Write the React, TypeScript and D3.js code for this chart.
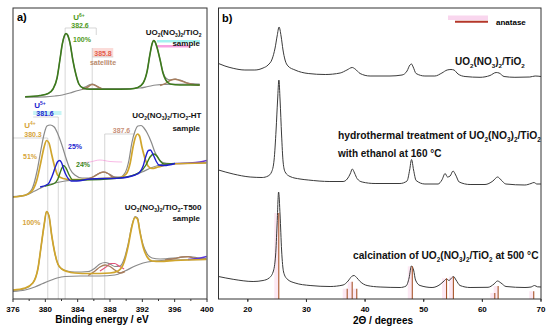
import React from "react";
import * as d3 from "d3";

type Pt = [number, number];

// ---- panel a) XPS U4f, binding energy (eV) vs intensity (a.u.) ----
// UO2(NO3)2/TiO2 sample (top)
const topBackground: Pt[] = [[377.5, 201.8], [380.0, 202.2], [381.2, 203], [382.1, 204], [383.05, 206], [384.05, 208.5], [385.0, 210], [386.75, 210.3], [390.5, 210.5], [391.7, 211], [392.7, 212.5], [393.7, 214], [394.8, 214.7], [399.1, 215]];
const topU6: Pt[] = [[377.5, 202.2], [379.35, 203.5], [380.35, 205.5], [380.95, 210], [381.45, 221], [381.8, 239], [382.1, 255], [382.35, 263], [382.55, 265.5], [382.75, 264], [383.05, 256], [383.4, 239], [383.8, 224], [384.15, 215], [384.65, 211], [385.55, 209.7], [388.0, 209.7], [390.5, 210], [391.45, 211.5], [392.1, 216], [392.6, 228], [392.95, 245], [393.2, 255], [393.4, 258.5], [393.55, 257.5], [393.8, 252], [394.2, 239], [394.55, 226], [394.9, 219], [395.45, 215], [396.65, 214], [399.1, 214]];
const topEnvelope: Pt[] = [[377.5, 202.2], [379.35, 203.5], [380.35, 205.5], [380.95, 210], [381.45, 221], [381.8, 239], [382.1, 255], [382.35, 263], [382.55, 265.5], [382.75, 264], [383.05, 256], [383.4, 239], [383.8, 224], [384.15, 215], [384.65, 211.5], [385.05, 212.5], [385.4, 214], [385.8, 215], [386.15, 214], [386.65, 211.5], [387.25, 210], [389.25, 209.8], [390.5, 210], [391.45, 211.5], [392.1, 216], [392.6, 228], [392.95, 245], [393.2, 255], [393.4, 258.5], [393.55, 257.5], [393.8, 252], [394.2, 239], [394.55, 227], [394.9, 221], [395.45, 219], [396.05, 220], [396.65, 219], [397.65, 216], [399.1, 214.5]];
const topSat1: Pt[] = [[384.55, 210], [385.15, 211.5], [385.8, 214.5], [386.4, 212.5], [387.0, 210.2]];
const topSat2: Pt[] = [[394.2, 213.5], [394.95, 216], [395.55, 219], [396.05, 219.7], [396.65, 218.5], [397.65, 215.5], [398.65, 214], [399.1, 213.7]];

// UO2(NO3)2/TiO2-HT sample (middle)
const htBackground: Pt[] = [[376.0, 102], [377.5, 103.5], [378.7, 108], [379.95, 113], [381.2, 116], [382.45, 118], [384.3, 119.5], [386.75, 120.5], [389.25, 121], [390.7, 123], [391.95, 127], [393.2, 131.5], [394.45, 134.5], [396.05, 135.5], [399.9, 136]];
const htU4: Pt[] = [[376.0, 102], [377.5, 103.8], [378.35, 108], [378.95, 119], [379.45, 137], [379.85, 152], [380.15, 158.5], [380.45, 156], [380.8, 144], [381.2, 131], [381.55, 123.5], [382.2, 120.5], [383.05, 119.5], [384.3, 119.5], [386.75, 120.5], [389.25, 121.5], [390.0, 125], [390.5, 136], [390.85, 152], [391.15, 162], [391.4, 165], [391.65, 163], [391.95, 152], [392.35, 140], [392.7, 133], [393.2, 130.5], [393.95, 132], [395.45, 135], [399.9, 136]];
const htU5: Pt[] = [[379.35, 112], [380.35, 115], [380.8, 122], [381.2, 131], [381.5, 137], [381.75, 138.5], [382.0, 136.5], [382.3, 129], [382.7, 122], [383.2, 118], [383.9, 118], [385.5, 120], [389.25, 121], [391.1, 124], [391.7, 127], [392.1, 133], [392.45, 143], [392.75, 148.5], [393.0, 149], [393.3, 145], [393.7, 138], [394.05, 134], [394.7, 133.5], [396.05, 135.5]];
const htU6: Pt[] = [[379.95, 113], [381.2, 116], [381.55, 120], [381.95, 129], [382.25, 133.5], [382.55, 131], [382.95, 124], [383.4, 119], [384.3, 119], [389.25, 121], [391.7, 127], [392.45, 134], [392.95, 142], [393.45, 145], [393.8, 143], [394.2, 138], [394.7, 135], [396.05, 135.5]];
const htEnvelope: Pt[] = [[376.0, 102.5], [377.5, 104], [378.35, 110], [378.95, 127], [379.45, 149], [379.85, 165], [380.2, 173], [380.6, 174], [381.1, 172], [381.55, 165], [382.05, 154], [382.55, 141], [383.05, 130], [383.65, 124], [384.55, 121], [385.5, 121], [386.4, 124.5], [387.15, 127], [387.9, 125], [388.6, 122], [389.25, 122], [389.85, 126], [390.35, 139], [390.7, 156], [391.1, 168], [391.45, 173], [391.85, 173.5], [392.2, 171], [392.6, 166], [393.1, 157], [393.55, 147], [394.05, 140], [394.55, 136.5], [395.45, 135.5], [399.9, 136.5]];
const htSat: Pt[] = [[385.3, 120], [386.15, 123], [386.75, 126], [387.25, 127], [387.75, 125.5], [388.35, 122], [389.25, 121]];
const htPink: Pt[] = [[384.05, 136], [385.5, 137], [386.75, 139], [388.0, 137.5], [389.5, 137]];
const htPurple: Pt[] = [[396.05, 135.5], [397.9, 136], [399.1, 137], [399.95, 138.5]];

// UO2(NO3)2/TiO2-T500 sample (bottom)
const t500Background: Pt[] = [[376.0, 7.5], [377.5, 9], [378.7, 12], [379.7, 15.5], [380.6, 18.5], [381.45, 21], [382.45, 22.5], [384.3, 23], [386.75, 23], [388.6, 24], [389.85, 28], [391.1, 33], [392.1, 36], [393.55, 38], [395.45, 39], [399.9, 39.5]];
const t500U4: Pt[] = [[376.0, 9], [377.5, 11], [378.45, 16], [379.1, 31], [379.45, 51], [379.85, 74], [380.15, 87.5], [380.45, 83], [380.8, 63], [381.2, 45], [381.55, 35], [382.05, 30], [382.7, 27.5], [383.65, 26], [385.5, 25.5], [388.0, 26], [389.0, 28], [389.75, 37], [390.25, 53], [390.7, 72], [391.1, 81.7], [391.4, 80], [391.7, 67], [392.1, 52], [392.6, 42], [393.2, 38], [394.2, 37.5], [396.05, 38.5], [399.9, 39.5]];
const t500Envelope: Pt[] = [[376.0, 8.5], [377.5, 10.5], [378.45, 16], [379.1, 31], [379.45, 51], [379.85, 74], [380.15, 87.5], [380.45, 83], [380.8, 63], [381.2, 45], [381.55, 35], [382.05, 30], [382.7, 28], [383.65, 27], [385.3, 27.5], [386.15, 31], [386.75, 35], [387.4, 36.5], [388.0, 35], [388.6, 32.5], [389.25, 33], [389.75, 40], [390.25, 55], [390.7, 73], [391.1, 82.5], [391.4, 81], [391.7, 68], [392.1, 54], [392.6, 45], [393.2, 41], [394.2, 40], [396.05, 41], [397.65, 42.5], [399.1, 41], [399.9, 40.5]];
const t500Sat1: Pt[] = [[385.3, 23.5], [386.15, 28], [386.75, 32], [387.4, 34], [388.0, 32.5], [388.6, 29], [389.25, 26], [389.85, 27.5]];
const t500Sat2: Pt[] = [[394.8, 39], [396.05, 40.5], [396.9, 42], [397.65, 42.2], [398.5, 40.7], [399.9, 39.7]];
const t500Pink: Pt[] = [[386.75, 28], [387.5, 32], [388.1, 35.5], [388.6, 35.5], [389.1, 33], [389.75, 30]];
const t500Purple: Pt[] = [[397.65, 39.5], [398.9, 40.5], [399.95, 42.5]];

// ---- panel b) XRD, 2theta (deg) vs intensity (a.u.) ----
const xrdAsPrepared: Pt[] = [[15.0, 235.5], [16.1, 233], [17.5, 230.7], [19.5, 229], [21.2, 229], [22.6, 231], [23.45, 234], [24.15, 240], [24.65, 251], [25.0, 263], [25.33, 272], [25.67, 263], [26.0, 249], [26.35, 239], [26.85, 233], [28.05, 229], [30.3, 225.5], [33.2, 224.5], [35.75, 226], [36.9, 229], [37.8, 231.5], [38.3, 230], [39.15, 225.5], [40.85, 223], [44.25, 223], [46.3, 224], [47.15, 228], [47.65, 234], [47.92, 235], [48.2, 232], [48.7, 225.5], [50.2, 223], [51.9, 223], [53.1, 226], [54.0, 229], [54.65, 229.5], [55.15, 229], [55.85, 225], [57.05, 222.5], [59.6, 221.7], [61.3, 223.5], [62.35, 226.5], [62.85, 226], [63.7, 222.5], [65.55, 221.7], [68.1, 222], [69.0, 223], [70, 222.5]];
const xrdHydrothermal: Pt[] = [[15, 129], [17.5, 125], [20.4, 122], [22.45, 121.5], [23.45, 123], [24.05, 127], [24.48, 139], [24.82, 169], [25.08, 199], [25.3, 219], [25.5, 199], [25.76, 164], [26.02, 137], [26.36, 127], [27.2, 122.5], [28.9, 120], [30.3, 119], [34.0, 117.5], [36.25, 117.5], [36.95, 120], [37.45, 125], [37.83, 130], [38.2, 126], [38.63, 120.5], [39.5, 117], [41.7, 115.5], [45.95, 115.5], [47.15, 118], [47.6, 129], [47.92, 139.5], [48.27, 129], [48.7, 118.5], [50.2, 115], [52.45, 115], [53.1, 119], [53.65, 125.5], [54.05, 122], [54.5, 123], [55.0, 128], [55.45, 124], [56.05, 117], [57.9, 114.5], [60.45, 114.5], [61.8, 118], [62.6, 122], [63.2, 119], [64.0, 115], [67.25, 114], [68.3, 115.5], [68.8, 116.5], [69.3, 115], [70, 115]];
const xrdCalcined: Pt[] = [[15, 22.5], [17.5, 19.7], [20.9, 17.5], [22.6, 18.5], [23.63, 21], [24.31, 27], [24.74, 44], [24.99, 74], [25.25, 107], [25.5, 84], [25.76, 49], [26.1, 27], [26.7, 20], [28.06, 16], [30.62, 13.5], [34.03, 12.5], [36.25, 14], [37.1, 18], [37.7, 22.5], [38.12, 23.5], [38.55, 21.5], [39.15, 17.5], [40.34, 13.5], [42.56, 12], [45.97, 11.5], [46.99, 13], [47.5, 21], [47.9, 33], [48.27, 29], [48.6, 19], [49.37, 13.5], [51.42, 11.5], [52.78, 14.5], [53.46, 18], [53.89, 20], [54.32, 18.5], [54.74, 21], [55.08, 22.5], [55.51, 19], [56.19, 13.5], [57.9, 11.5], [60.97, 11.7], [61.99, 15], [62.58, 18], [63.18, 16], [64.03, 12.5], [67.27, 11.5], [68.3, 12], [68.89, 13.5], [69.4, 12.2], [70, 12]];

// anatase reference pattern: 2theta and relative intensity (%)
const anatasePos = [25.28, 36.95, 37.8, 38.58, 48.05, 53.89, 55.06, 62.12, 62.69, 68.76];
const anataseRel = [100, 12, 20, 12, 38, 24, 26, 7, 15, 9];

const beTicks = [376, 380, 384, 388, 392, 396, 400];
const thetaTicks = [20, 30, 40, 50, 60, 70];

const FONT = "'Liberation Sans', Arial, sans-serif";

// "_2" -> subscript char, "^{6+}" -> superscript
const Rich = ({ s, size }: { s: string; size: number }) => {
  const out: React.ReactNode[] = [];
  const re = /_(\w)|\^\{([^}]*)\}|([^_^]+)/g;
  let m: RegExpExecArray | null;
  let shift = 0;
  let k = 0;
  while ((m = re.exec(s))) {
    if (m[1] || m[2]) {
      const d = m[1] ? size * 0.3 : -size * 0.42;
      out.push(<tspan key={k++} dy={d - shift} fontSize={size * 0.62}>{m[1] || m[2]}</tspan>);
      shift = d;
    } else {
      out.push(<tspan key={k++} dy={-shift}>{m[3]}</tspan>);
      shift = 0;
    }
  }
  return <>{out}</>;
};

const Label = ({ x, y, s, size = 8, fill = "#111", anchor = "start" }: any) => (
  <text x={x} y={y} fontSize={size} fill={fill} textAnchor={anchor} fontWeight="bold" fontFamily={FONT}>
    <Rich s={s} size={size} />
  </text>
);

export default function App() {
  const top = 8, bottom = 299;
  const xA = d3.scaleLinear().domain([376, 400]).range([13, 207]);
  const xB = d3.scaleLinear().domain([15, 70]).range([218.5, 541]);
  const y = d3.scaleLinear().domain([0, 291]).range([bottom, top]);
  const yStick = d3.scaleLinear().domain([0, 100]).range([bottom, 213]);

  const lineA = d3.line<Pt>().x(d => xA(d[0])).y(d => y(d[1])).curve(d3.curveMonotoneX);
  const lineB = d3.line<Pt>().x(d => xB(d[0])).y(d => y(d[1])).curve(d3.curveMonotoneX);

  const gray = "#8a8a8a", gold = "#d0a52c", blue = "#1e1ecf", green = "#3c7a1c", brown = "#a87d5c";
  const pathA = (d: Pt[], c: string, w = 1.3, o = 1) => (
    <path d={lineA(d) || ""} fill="none" stroke={c} strokeWidth={w} opacity={o} strokeLinejoin="round" />
  );

  // guide lines: [eV, top intensity]
  const guides: [number, number][] = [[380.3, 161], [381.6, 182], [382.45, 271], [385.8, 251], [387.35, 165]];

  const minorA = d3.range(378, 400, 4);
  const minorB = d3.range(15, 70, 10);

  return (
    <svg width={550} height={328} style={{ position: "absolute", left: 0, top: 0, background: "#fff" }}>
      {/* ---------- panel a ---------- */}
      {/* highlights behind labels */}
      <rect x={xA(385.8)} y={y(251)} width={xA(388.4) - xA(385.8)} height={9} fill="#fbdcd9" />
      <rect x={xA(378.5)} y={y(188)} width={xA(382.0) - xA(378.5)} height={4} fill="#c6f5f5" />
      <rect x={157} y={y(259)} width={43} height={2.5} fill="#8ff0ee" opacity={0.8} />
      <rect x={157} y={y(254)} width={33} height={2.5} fill="#f58ad8" opacity={0.8} />
      {guides.map(([e, t], i) => (
        <line key={i} x1={xA(e)} x2={xA(e)} y1={y(t)} y2={bottom} stroke="#c4c4c4" strokeWidth={0.7} />
      ))}
      <line x1={xA(382.45)} x2={xA(386.3)} y1={y(271)} y2={y(271)} stroke="#c4c4c4" strokeWidth={0.7} />
      <line x1={xA(386.3)} x2={xA(386.3)} y1={y(271)} y2={y(264)} stroke="#c4c4c4" strokeWidth={0.7} />
      <line x1={xA(385.8)} x2={xA(388.4)} y1={y(242)} y2={y(242)} stroke="#c4c4c4" strokeWidth={0.7} />
      <line x1={xA(378.5)} x2={xA(381.6)} y1={y(182)} y2={y(182)} stroke="#c4c4c4" strokeWidth={0.7} />
      <line x1={xA(376)} x2={xA(380.3)} y1={y(161)} y2={y(161)} stroke="#c4c4c4" strokeWidth={0.7} />
      <line x1={xA(387.35)} x2={xA(391.1)} y1={y(165)} y2={y(165)} stroke="#c4c4c4" strokeWidth={0.7} />

      {/* top spectrum */}
      {pathA(topBackground, gray, 1.2)}
      {pathA(topEnvelope, gray, 1.2)}
      {pathA(topSat1, brown, 1.4)}
      {pathA(topSat2, brown, 1.4)}
      {pathA(topU6, green, 1.6)}

      {/* middle spectrum */}
      {pathA(htBackground, gray, 1.2)}
      {pathA(htEnvelope, gray, 1.2)}
      {pathA(htPink, "#f27ccf", 0.9, 0.6)}
      {pathA(htSat, brown, 1.4)}
      {pathA(htPurple, "#6a3ad0", 1.4)}
      {pathA(htU4, gold, 1.7)}
      {pathA(htU6, green, 1.4)}
      {pathA(htU5, blue, 1.4)}

      {/* bottom spectrum */}
      {pathA(t500Background, gray, 1.2)}
      {pathA(t500Envelope, gray, 1.2)}
      {pathA(t500Pink, "#e0557a", 1.1)}
      {pathA(t500Sat1, brown, 1.4)}
      {pathA(t500Sat2, brown, 1.4)}
      {pathA(t500Purple, "#5a38d8", 1.4)}
      {pathA(t500U4, gold, 1.7)}

      {/* panel a labels */}
      <text x={17} y={21} fontSize={11} fontWeight="bold" fontFamily={FONT}>a)</text>
      <Label x={79} y={20} s="U^{6+}" fill="#4f9a22" anchor="middle" />
      <Label x={80} y={27.5} s="382.6" size={7} fill="#4f9a22" anchor="middle" />
      <Label x={82} y={41.5} s="100%" size={7} fill="#4f9a22" anchor="middle" />
      <Label x={201.5} y={35} s="UO_2(NO_3)_2/TiO_2" anchor="end" />
      <Label x={200} y={46} s="sample" anchor="end" />
      <Label x={103} y={55.5} s="385.8" size={7} fill="#e25d4c" anchor="middle" />
      <Label x={103} y={64.5} s="satellite" size={7} fill="#b98a6c" anchor="middle" />

      <Label x={40} y={108} s="U^{5+}" fill={blue} anchor="middle" />
      <Label x={45} y={116} s="381.6" size={7} fill={blue} anchor="middle" />
      <Label x={30} y={128} s="U^{4+}" fill="#d6a43a" anchor="middle" />
      <Label x={33} y={136.5} s="380.3" size={7} fill="#d6a43a" anchor="middle" />
      <Label x={30} y={158.5} s="51%" size={7} fill="#d6a43a" anchor="middle" />
      <Label x={75} y={149} s="25%" size={7} fill={blue} anchor="middle" />
      <Label x={83} y={166.5} s="24%" size={7} fill="#3c8a1c" anchor="middle" />
      <Label x={121.5} y={132.5} s="387.6" size={7} fill="#c9917a" anchor="middle" />
      <Label x={201.5} y={118} s="UO_2(NO_3)_2/TiO_2-HT" anchor="end" />
      <Label x={200} y={131} s="sample" anchor="end" />

      <Label x={201.5} y={209.5} s="UO_2(NO_3)_2/TiO_2-T500" anchor="end" />
      <Label x={200} y={221} s="sample" anchor="end" />
      <Label x={31.5} y={225} s="100%" size={7} fill="#d6a43a" anchor="middle" />

      {/* panel a frame + axis */}
      <rect x={13} y={top} width={194} height={bottom - top} fill="none" stroke="#333" strokeWidth={1} />
      {beTicks.map(t => (
        <g key={t}>
          <line x1={xA(t)} x2={xA(t)} y1={bottom} y2={bottom + 3} stroke="#333" />
          <text x={xA(t)} y={312} fontSize={8} fontWeight="bold" textAnchor="middle" fontFamily={FONT}>{t}</text>
        </g>
      ))}
      {minorA.map(t => <line key={t} x1={xA(t)} x2={xA(t)} y1={bottom} y2={bottom + 2} stroke="#333" />)}
      <text x={102} y={322.5} fontSize={10} fontWeight="bold" textAnchor="middle" fontFamily={FONT}>Binding energy / eV</text>

      {/* ---------- panel b ---------- */}
      {anatasePos.map((p, i) => (
        <rect key={"g" + i} x={xB(p) - 4.5} y={yStick(anataseRel[i])} width={4.5} height={bottom - yStick(anataseRel[i])} fill="#f7c6e2" opacity={0.4} />
      ))}
      <path d={lineB(xrdAsPrepared) || ""} fill="none" stroke="#3a3a3a" strokeWidth={1} />
      <path d={lineB(xrdHydrothermal) || ""} fill="none" stroke="#3a3a3a" strokeWidth={1} />
      <path d={lineB(xrdCalcined) || ""} fill="none" stroke="#3a3a3a" strokeWidth={1} />
      {anatasePos.map((p, i) => (
        <line key={"s" + i} x1={xB(p)} x2={xB(p)} y1={yStick(anataseRel[i])} y2={bottom} stroke="#a8552a" strokeWidth={1.1} />
      ))}

      <text x={222} y={22} fontSize={11} fontWeight="bold" fontFamily={FONT}>b)</text>
      <rect x={448} y={15.5} width={40} height={4.5} fill="#f9d6ee" />
      <line x1={455} x2={488} y1={21.7} y2={21.7} stroke="#b5372a" strokeWidth={2} />
      <text x={496} y={25} fontSize={8} fontWeight="bold" fontFamily={FONT}>anatase</text>
      <Label x={455} y={65} s="UO_2(NO_3)_2/TiO_2" size={10} />
      <Label x={338} y={138.5} s="hydrothermal treatment of UO_2(NO_3)_2/TiO_2" size={10.3} />
      <Label x={338} y={157} s="with ethanol at 160 °C" size={10} />
      <Label x={353} y={258.5} s="calcination of UO_2(NO_3)_2/TiO_2 at 500 °C" size={10.2} />

      <rect x={218.5} y={top} width={541 - 218.5} height={bottom - top} fill="none" stroke="#333" strokeWidth={1} />
      {thetaTicks.map(t => (
        <g key={t}>
          <line x1={xB(t)} x2={xB(t)} y1={bottom} y2={bottom + 3} stroke="#333" />
          <text x={xB(t)} y={312} fontSize={8} fontWeight="bold" textAnchor="middle" fontFamily={FONT}>{t}</text>
        </g>
      ))}
      {minorB.map(t => <line key={t} x1={xB(t + 5)} x2={xB(t + 5)} y1={bottom} y2={bottom + 2} stroke="#333" />)}
      <text x={383} y={323.5} fontSize={10} fontWeight="bold" textAnchor="middle" fontFamily={FONT}>2Θ / degrees</text>
    </svg>
  );
}
